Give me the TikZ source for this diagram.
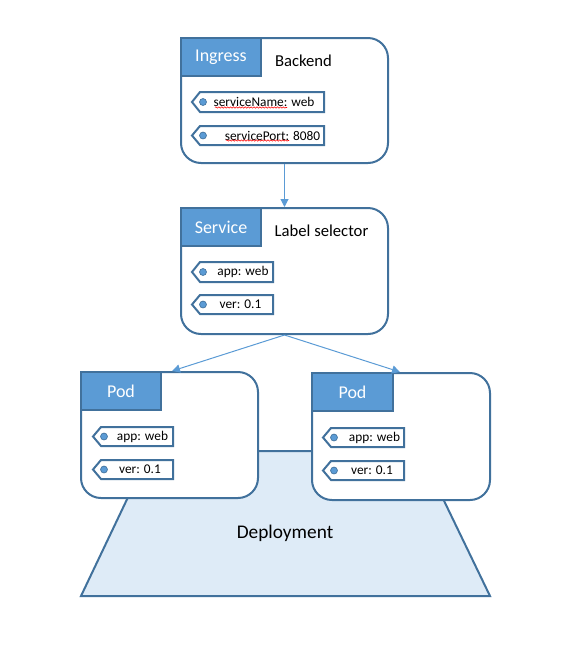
\documentclass[tikz,border=0pt]{standalone}
\usepackage{fontspec}
\setmainfont{Carlito}
\usetikzlibrary{fit,calc,decorations.pathmorphing,arrows.meta}
\definecolor{bord}{HTML}{41719C}
\definecolor{hdr}{HTML}{5B9BD5}
\definecolor{dep}{HTML}{DEEBF7}
\newcommand\ktag[7]{%
  \draw[tagline] (#2+8,#3) -- (#4,#3) -- (#4,#5) -- (#2+8,#5) -- (#2,{(#3+#5)/2}) -- cycle;
  \filldraw[tagdot] (#2+11,{(#3+#5)/2}) circle (2.6pt);
  \node[tagtxt] (#1) at (#6,{(#3+#5)/2}) {#7};
}
\begin{document}
\begin{tikzpicture}[x=0.75pt,y=-0.75pt,
  box/.style={draw=bord, line width=1.5pt, rounded corners=15pt, fill=white, inner sep=0pt},
  hdrbox/.style={draw=bord, line width=1.5pt, fill=hdr, inner sep=0pt},
  hdrtxt/.style={text=white, font=\fontsize{13.5}{16}\selectfont, inner sep=0pt},
  titletxt/.style={text=black, font=\fontsize{12.5}{15}\selectfont, inner sep=0pt},
  tagline/.style={draw=bord, line width=1.5pt, fill=white, line join=miter},
  tagdot/.style={fill=hdr, draw=bord, line width=0.5pt},
  tagtxt/.style={text=black, font=\fontsize{10}{12}\selectfont, inner sep=0pt},
  arr/.style={draw=hdr, line width=0.75pt, -{Triangle[length=6pt,width=6pt]}},
  squig/.style={draw=red, line width=0.4pt, decorate, decoration={snake, amplitude=0.5pt, segment length=2.2pt}},
  deploy/.style={draw=bord, line width=1.5pt, fill=dep, line join=miter}
]
\useasboundingbox (0,0) rectangle (574,647);

% Deployment
\draw[deploy] (150,451) -- (420,451) -- (490,596) -- (81,596) -- cycle;
\node[font=\fontsize{14.5}{17}\selectfont, inner sep=0pt] (deptxt) at (285,533) {Deployment};

% Ingress
\node[box, fit={(181,38) (388,163)}] (ing) {};
\node[hdrbox, fit={(181,38) (261,76)}] (ingh) {};
\node[hdrtxt] (ingt) at (ingh.center) {Ingress};
\node[titletxt] (ingb) at (303.5,61) {Backend};
\ktag{t1}{192}{92}{324}{112}{264}{serviceName: web}
\ktag{t2}{192}{126}{324}{145}{272.5}{servicePort: 8080}
\draw[squig] (215,107.5) -- (287,107.5);
\draw[squig] (226,140.5) -- (289,140.5);

% Service
\node[box, fit={(181,208) (388,334)}] (svc) {};
\node[hdrbox, fit={(181,208) (261,246)}] (svch) {};
\node[hdrtxt] (svct) at (svch.center) {Service};
\node[titletxt] (svcl) at (321.5,231) {Label selector};
\ktag{t3}{192}{262}{273}{282}{243}{app: web}
\ktag{t4}{192}{295}{273}{314}{240.5}{ver: 0.1}

% Pod left
\node[box, fit={(81,372) (258,498)}] (podL) {};
\node[hdrbox, fit={(81,372) (161,410)}] (podLh) {};
\node[hdrtxt] (podLt) at (podLh.center) {Pod};
\ktag{t5}{93}{427}{173}{446}{142.5}{app: web}
\ktag{t6}{93}{460}{173}{479}{140}{ver: 0.1}

% Pod right
\node[box, fit={(312,373) (490,500)}] (podR) {};
\node[hdrbox, fit={(312,373) (393,411)}] (podRh) {};
\node[hdrtxt] (podRt) at (podRh.center) {Pod};
\ktag{t7}{323}{428}{404}{447}{374.5}{app: web}
\ktag{t8}{323}{461}{404}{480}{372}{ver: 0.1}

% Connectors
\draw[arr] (ing.south) -- (svc.north);
\draw[arr] (svc.south) -- ($(podL.north west)+(92,0)$);
\draw[arr] (svc.south) -- ($(podR.north west)+(89,0)$);
\end{tikzpicture}
\end{document}
